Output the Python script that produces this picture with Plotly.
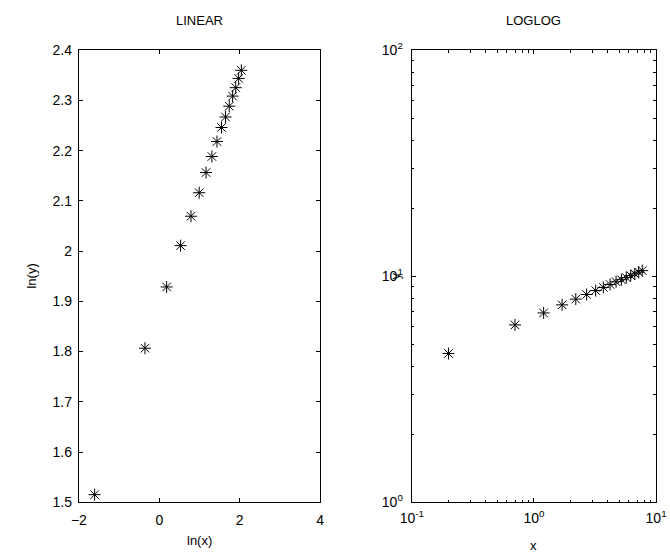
import numpy as np
import plotly.graph_objects as go

# Data
x_vals = [0.2, 0.7, 1.2, 1.7, 2.2, 2.7, 3.2, 3.7, 4.2, 4.7, 5.2, 5.7, 6.2, 6.7, 7.2, 7.7]
y_vals = [4.55, 6.09, 6.88, 7.47, 7.92, 8.30, 8.64, 8.92, 9.19, 9.45, 9.65, 9.86, 10.06, 10.23, 10.42, 10.59]

lin_xticks = [-2, 0, 2, 4]
lin_yticks = [1.5, 1.6, 1.7, 1.8, 1.9, 2.0, 2.1, 2.2, 2.3, 2.4]
log_ticks = [0.1, 1, 10, 100]
log_ticktext = ["10<sup>-1</sup>", "10<sup>0</sup>", "10<sup>1</sup>", "10<sup>2</sup>"]
log_minor_x = [0.2, 0.3, 0.4, 0.5, 0.6, 0.7, 0.8, 0.9, 2, 3, 4, 5, 6, 7, 8, 9]
log_minor_y = [2, 3, 4, 5, 6, 7, 8, 9, 20, 30, 40, 50, 60, 70, 80, 90]

W, H = 670, 557
FONT = "Liberation Sans, Arial, Helvetica, sans-serif"


def px(xp):
    return xp / W


def py(yp):
    return 1 - yp / H


L_left, L_right = 69.3, 319.0
R_left, R_right = 414.0, 667.0
T, B = 41.5, 508.7

fig = go.Figure()

marker = dict(symbol="asterisk-open", size=10, color="black",
              line=dict(color="black", width=1))

fig.add_trace(go.Scatter(x=np.log(x_vals), y=np.log(y_vals), mode="markers",
                         marker=marker, xaxis="x", yaxis="y", showlegend=False))
fig.add_trace(go.Scatter(x=x_vals, y=y_vals, mode="markers",
                         marker=marker, xaxis="x2", yaxis="y2", showlegend=False))

tick_font = dict(family=FONT, size=14, color="black")
common = dict(showline=True, linecolor="black", linewidth=1.3, mirror="ticks",
              ticks="inside", ticklen=4, tickcolor="black", tickwidth=1,
              showgrid=False, zeroline=False, ticklabeloverflow="allow",
              tickfont=tick_font)


def minor(vals):
    return dict(tickmode="array", tickvals=vals, ticks="inside", ticklen=2.5,
                tickcolor="black", tickwidth=1, showgrid=False)


fig.update_layout(
    width=W, height=H,
    margin=dict(l=0, r=0, t=0, b=0),
    paper_bgcolor="white", plot_bgcolor="white",
    font=dict(family=FONT, size=13, color="black"),
    xaxis=dict(domain=[px(L_left), px(L_right)], range=[-2, 4],
               tickvals=lin_xticks, anchor="y", ticklabelstandoff=5, **common),
    yaxis=dict(domain=[py(B), py(T)], range=[1.5, 2.4],
               tickvals=lin_yticks, anchor="x", ticklabelstandoff=3, **common),
    xaxis2=dict(domain=[px(R_left), px(R_right)], type="log", range=[-1, 1],
                tickvals=log_ticks, ticktext=log_ticktext, anchor="y2",
                ticklabelstandoff=3, minor=minor(log_minor_x), **common),
    yaxis2=dict(domain=[py(B), py(T)], type="log", range=[0, 2],
                tickvals=log_ticks, ticktext=log_ticktext, anchor="x2",
                ticklabelstandoff=5, minor=minor(log_minor_y), **common),
)

ann_font = dict(family=FONT, size=13, color="black")
annotations = [
    dict(text="LINEAR", x=px((L_left + L_right) / 2), y=py(11)),
    dict(text="LOGLOG", x=px((R_left + R_right) / 2), y=py(11)),
    dict(text="ln(x)", x=px((L_left + L_right) / 2), y=py(548)),
    dict(text="x", x=px((R_left + R_right) / 2), y=py(553)),
    dict(text="ln(y)", x=px(20), y=py((T + B) / 2), textangle=-90),
    dict(text="y", x=px(397), y=py((T + B) / 2), textangle=-90),
]
for a in annotations:
    a.update(xref="paper", yref="paper", showarrow=False, font=ann_font,
             xanchor="center", yanchor="middle")
fig.update_layout(annotations=annotations)

fig.write_html("out.html")
